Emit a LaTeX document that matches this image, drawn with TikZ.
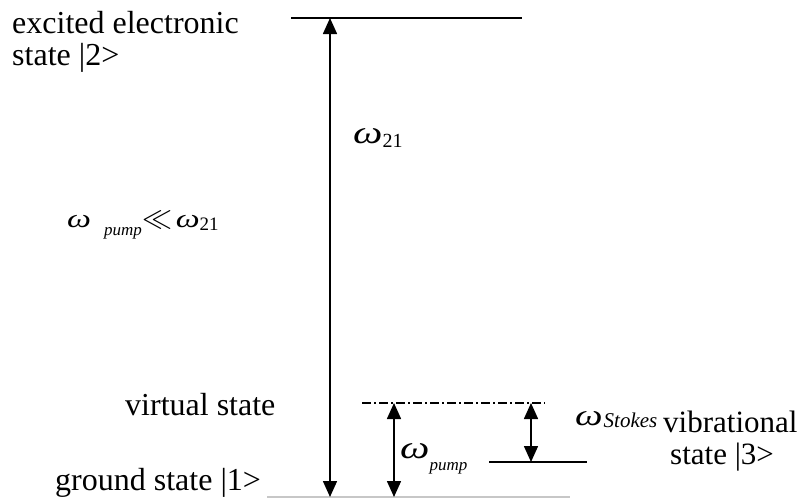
\documentclass[tikz,border=0pt]{standalone}
\usepackage{fix-cm}
\usepackage{graphicx}
\usepackage{fontspec}
\setmainfont{Liberation Serif}
\usetikzlibrary{arrows.meta}
\newcommand{\omg}[1]{{\fontsize{#1}{#1}\selectfont\itshape\scalebox{1.3}[1]{ω}}}
\newcommand{\idx}[2]{{\fontsize{#1}{#1}\selectfont #2}}
\begin{document}
\begin{tikzpicture}[x=1pt,y=-1pt,
  level/.style={line width=1.6pt},
  trans/.style={line width=1.6pt,{Triangle[width=14pt,length=16pt]}-{Triangle[width=14pt,length=16pt]}},
  txt/.style={anchor=base west,inner sep=0pt,font=\fontsize{32}{32}\selectfont}]
\useasboundingbox (0,0) rectangle (809,498);

\coordinate (e2) at (330,18);
\coordinate (g1) at (330,497);
\coordinate (vs) at (394,403);
\coordinate (gp) at (394,497);
\coordinate (vs2) at (531,403);
\coordinate (v3) at (531,462);

\draw[level] (291,18) -- (522,18);
\draw[level,dash pattern=on 9pt off 3pt on 2pt off 3pt] (362,403) -- (545,403);
\draw[level] (489,462) -- (587,462);
\draw[level,black!22] (267,497) -- (570,497);

\draw[trans] (g1) -- (e2);
\draw[trans] (gp) -- (vs);
\draw[trans] (v3) -- (vs2);

\node[txt] (excited) at (12,33) {excited electronic};
\node[txt] (excited2) at (12,65) {state |2>};
\node[txt] (virtual) at (125,415) {virtual state};
\node[txt] (ground) at (55,490) {ground state |1>};
\node[txt,font=\fontsize{31}{31}\selectfont] (vib) at (663,432) {vibrational};
\node[txt,font=\fontsize{31}{31}\selectfont] (vib2) at (670,464) {state |3>};

\node[txt] (w21) at (353,143) {\omg{32}\raisebox{-4pt}{\idx{20}{21}}};
\node[txt] (wratio) at (67,227) {\omg{26}\hspace{13pt}\raisebox{-8pt}{\idx{17}{\itshape pump}}\hspace{1pt}\idx{30}{$\ll$}\hspace{3pt}\omg{26}\raisebox{-3pt}{\idx{19}{21}}};
\node[txt] (wpump) at (400,458) {\omg{32}\raisebox{-12pt}{\idx{17}{\itshape pump}}};
\node[txt] (wstokes) at (575,425) {\omg{30}\hspace{1pt}\raisebox{-2pt}{\idx{21}{\itshape Stokes}}};
\end{tikzpicture}
\end{document}
